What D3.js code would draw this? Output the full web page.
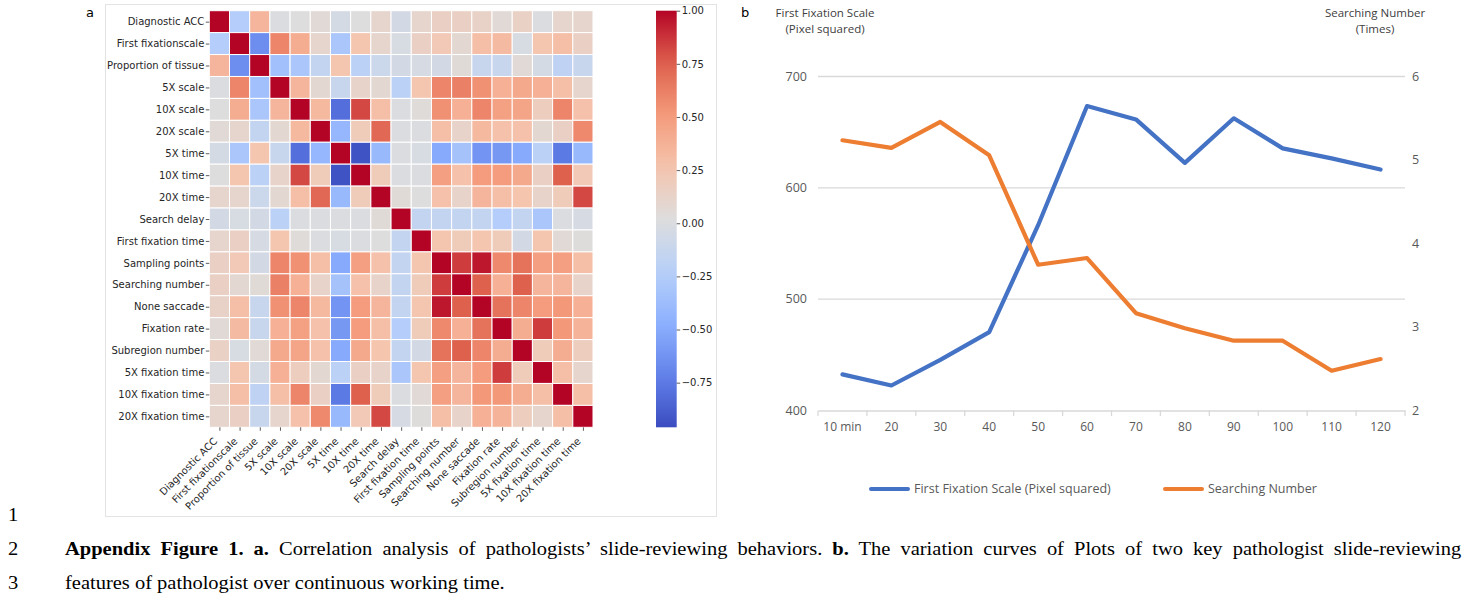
<!DOCTYPE html>
<html>
<head>
<meta charset="utf-8">
<script src="https://cdn.jsdelivr.net/npm/d3@7"></script>
<style>
  html, body { margin: 0; padding: 0; background: #fff; }
  svg { display: block; }
</style>
</head>
<body>
<svg id="fig" width="1481" height="602"></svg>
<script>
// ---- data: panel a (correlation matrix) ----
const features = [
  'Diagnostic ACC', 'First fixationscale', 'Proportion of tissue', '5X scale', '10X scale',
  '20X scale', '5X time', '10X time', '20X time', 'Search delay', 'First fixation time',
  'Sampling points', 'Searching number', 'None saccade', 'Fixation rate', 'Subregion number',
  '5X fixation time', '10X fixation time', '20X fixation time'
];

const corr = [
  [ 1.00,-0.25, 0.35, 0.00, 0.02, 0.06,-0.04, 0.02, 0.10,-0.05, 0.10, 0.15, 0.15, 0.13, 0.06, 0.14, 0.00, 0.10, 0.10],
  [-0.25, 1.00,-0.65, 0.60, 0.40, 0.10,-0.30, 0.25, 0.10,-0.02, 0.15, 0.22, 0.08, 0.30, 0.32,-0.02, 0.25, 0.30, 0.15],
  [ 0.35,-0.65, 1.00,-0.35,-0.30,-0.15, 0.25,-0.20,-0.10,-0.05,-0.03,-0.05, 0.05,-0.12,-0.12, 0.06,-0.04,-0.18,-0.12],
  [ 0.00, 0.60,-0.35, 1.00, 0.35, 0.08,-0.12, 0.12, 0.08,-0.20, 0.25, 0.60, 0.62, 0.55, 0.38, 0.42, 0.38, 0.30, 0.10],
  [ 0.02, 0.40,-0.30, 0.35, 1.00, 0.33,-0.80, 0.82, 0.30, 0.00, 0.04, 0.55, 0.38, 0.60, 0.47, 0.45, 0.18, 0.60, 0.28],
  [ 0.06, 0.10,-0.15, 0.08, 0.33, 1.00,-0.42, 0.20, 0.72, 0.00, 0.00, 0.30, 0.12, 0.33, 0.28, 0.28, 0.08, 0.15, 0.58],
  [-0.04,-0.30, 0.25,-0.12,-0.80,-0.42, 1.00,-0.93,-0.40, 0.00,-0.02,-0.50,-0.33,-0.62,-0.60,-0.50,-0.20,-0.75,-0.40],
  [ 0.02, 0.25,-0.20, 0.12, 0.82, 0.20,-0.93, 1.00, 0.20, 0.00, 0.00, 0.48, 0.28, 0.50, 0.50, 0.42, 0.15, 0.75, 0.22],
  [ 0.10, 0.10,-0.10, 0.08, 0.30, 0.72,-0.40, 0.20, 1.00, 0.05, 0.02, 0.28, 0.12, 0.35, 0.30, 0.26, 0.12, 0.20, 0.82],
  [-0.05,-0.02,-0.05,-0.20, 0.00, 0.00, 0.00, 0.00, 0.05, 1.00,-0.15,-0.15,-0.15,-0.15,-0.25,-0.15,-0.30, 0.00,-0.03],
  [ 0.10, 0.15,-0.03, 0.25, 0.04, 0.00,-0.02, 0.00, 0.02,-0.15, 1.00, 0.25, 0.20, 0.25, 0.20,-0.05, 0.25, 0.06, 0.03],
  [ 0.15, 0.22,-0.05, 0.60, 0.55, 0.30,-0.50, 0.48, 0.28,-0.15, 0.25, 1.00, 0.85, 0.95, 0.58, 0.68, 0.48, 0.48, 0.30],
  [ 0.15, 0.08, 0.05, 0.62, 0.38, 0.12,-0.33, 0.28, 0.12,-0.15, 0.20, 0.85, 1.00, 0.75, 0.38, 0.75, 0.35, 0.35, 0.12],
  [ 0.13, 0.30,-0.12, 0.55, 0.60, 0.33,-0.62, 0.50, 0.35,-0.15, 0.25, 0.95, 0.75, 1.00, 0.68, 0.60, 0.50, 0.52, 0.38],
  [ 0.06, 0.32,-0.12, 0.38, 0.47, 0.28,-0.60, 0.50, 0.30,-0.25, 0.20, 0.58, 0.38, 0.68, 1.00, 0.40, 0.85, 0.52, 0.36],
  [ 0.14,-0.02, 0.06, 0.42, 0.45, 0.28,-0.50, 0.42, 0.26,-0.15,-0.05, 0.68, 0.75, 0.60, 0.40, 1.00, 0.20, 0.40, 0.18],
  [ 0.00, 0.25,-0.04, 0.38, 0.18, 0.08,-0.20, 0.15, 0.12,-0.30, 0.25, 0.48, 0.35, 0.50, 0.85, 0.20, 1.00, 0.30, 0.10],
  [ 0.10, 0.30,-0.18, 0.30, 0.60, 0.15,-0.75, 0.75, 0.20, 0.00, 0.06, 0.48, 0.35, 0.52, 0.52, 0.40, 0.30, 1.00, 0.30],
  [ 0.10, 0.15,-0.12, 0.10, 0.28, 0.58,-0.40, 0.22, 0.82,-0.03, 0.03, 0.30, 0.12, 0.38, 0.36, 0.18, 0.10, 0.30, 1.00]
];

const cbarTicks = [1.0, 0.75, 0.5, 0.25, 0.0, -0.25, -0.5, -0.75];

// ---- data: panel b (two series over working time) ----
const timeLabels = ['10 min', '20', '30', '40', '50', '60', '70', '80', '90', '100', '110', '120'];
const fixationScale = [432, 422, 445, 470, 566, 673, 661, 622, 662, 635, 626, 616];
const searchingNumber = [5.23, 5.14, 5.45, 5.05, 3.74, 3.82, 3.16, 2.98, 2.83, 2.83, 2.47, 2.61];
const leftTicks = [400, 500, 600, 700];
const rightTicks = [2, 3, 4, 5, 6];

const captionLine2 = [
  { t: 'Appendix Figure 1. a.', b: true },
  { t: ' Correlation analysis of pathologists\u2019 slide-reviewing behaviors. ', b: false },
  { t: 'b.', b: true },
  { t: ' The variation curves of Plots of two key pathologist slide-reviewing', b: false }
];
const captionLine3 = 'features of pathologist over continuous working time.';

// ---------------------------------------------------------------
const svg = d3.select('#fig');
const SANS = 'DejaVu Sans, sans-serif';
const NARROW = '"Open Sans", sans-serif';
const SERIF = '"Liberation Serif", "DejaVu Serif", serif';

// coolwarm colormap
const VMIN = -0.96, VMAX = 1.0;
const CW = ['#3b4cc0', '#6282ea', '#8db0fe', '#b8d0f9', '#dddddd', '#f5c4ad', '#f49a7b', '#de604d', '#b40426'];
const color = d3.scaleLinear()
  .domain(CW.map((_, i) => VMIN + (VMAX - VMIN) * i / (CW.length - 1)))
  .range(CW)
  .interpolate(d3.interpolateRgb)
  .clamp(true);

// ---- panel a frame ----
svg.append('rect')
  .attr('x', 105.5).attr('y', 4.5).attr('width', 611).attr('height', 512)
  .attr('fill', '#fff').attr('stroke', '#e3e3e3');

svg.append('text').attr('x', 86).attr('y', 17)
  .attr('font-family', SANS).attr('font-size', 13).text('a');

const hx = d3.scaleBand().domain(d3.range(features.length)).range([209.3, 593]);
const hy = d3.scaleBand().domain(d3.range(features.length)).range([10.7, 427.3]);

const gHeat = svg.append('g');
corr.forEach((row, i) => {
  gHeat.selectAll(null).data(row).enter().append('rect')
    .attr('x', (d, j) => hx(j))
    .attr('y', hy(i))
    .attr('width', hx.bandwidth())
    .attr('height', hy.bandwidth())
    .attr('fill', d => color(d))
    .attr('stroke', '#fff')
    .attr('stroke-width', 1);
});

const yAx = svg.append('g')
  .attr('transform', 'translate(209.3,0)')
  .call(d3.axisLeft(d3.scalePoint().domain(features).range([hy(0) + hy.bandwidth() / 2, hy(18) + hy.bandwidth() / 2]))
    .tickSize(3.5).tickPadding(1.5));
yAx.select('.domain').remove();
yAx.selectAll('line').attr('stroke', '#333').attr('stroke-width', 0.8);
yAx.selectAll('text').attr('font-family', SANS).attr('font-size', 10).attr('fill', '#262626');

const xAx = svg.append('g')
  .attr('transform', 'translate(0,427.3)')
  .call(d3.axisBottom(d3.scalePoint().domain(features).range([hx(0) + hx.bandwidth() / 2, hx(18) + hx.bandwidth() / 2]))
    .tickSize(3.5));
xAx.select('.domain').remove();
xAx.selectAll('line').attr('stroke', '#333').attr('stroke-width', 0.8);
xAx.selectAll('text')
  .attr('font-family', SANS).attr('font-size', 10).attr('fill', '#262626')
  .attr('text-anchor', 'end')
  .attr('x', 0).attr('y', 0).attr('dy', 0)
  .attr('transform', 'translate(-2,14.5) rotate(-45)');

// ---- colorbar ----
const cbY = d3.scaleLinear().domain([VMIN, VMAX]).range([427.3, 10.7]);
const grad = svg.append('defs').append('linearGradient')
  .attr('id', 'cw').attr('x1', 0).attr('y1', 1).attr('x2', 0).attr('y2', 0);
d3.range(0, 1.0001, 0.05).forEach(t => {
  grad.append('stop').attr('offset', t).attr('stop-color', color(VMIN + t * (VMAX - VMIN)));
});
svg.append('rect')
  .attr('x', 656).attr('y', 10.7).attr('width', 20.7).attr('height', 427.3 - 10.7)
  .attr('fill', 'url(#cw)');
const cbAx = svg.append('g').attr('transform', 'translate(676.7,0)')
  .call(d3.axisRight(cbY).tickValues(cbarTicks).tickFormat(d3.format('.2f')).tickSize(3.5).tickPadding(1.5));
cbAx.select('.domain').remove();
cbAx.selectAll('line').attr('stroke', '#333').attr('stroke-width', 0.8);
cbAx.selectAll('text').attr('font-family', SANS).attr('font-size', 10).attr('fill', '#262626');

// ---- panel b ----
svg.append('text').attr('x', 741).attr('y', 17)
  .attr('font-family', SANS).attr('font-size', 13).text('b');

const bx = d3.scaleBand().domain(timeLabels).range([818, 1405]);
const yL = d3.scaleLinear().domain([400, 700]).range([410, 76]);
const yR = d3.scaleLinear().domain([2, 6]).range([410, 76]);

const gB = svg.append('g');
gB.selectAll('line.grid').data(leftTicks.slice(1)).enter().append('line')
  .attr('x1', 818).attr('x2', 1405)
  .attr('y1', d => yL(d) + 0.5).attr('y2', d => yL(d) + 0.5)
  .attr('stroke', '#d9d9d9').attr('stroke-width', 1.3);

const xAxB = gB.append('g').attr('transform', 'translate(0,410.5)')
  .call(d3.axisBottom(bx).tickSize(0).tickPadding(12));
xAxB.select('.domain').attr('stroke', '#d9d9d9').attr('stroke-width', 1.3);
xAxB.selectAll('text').attr('font-family', NARROW).attr('font-size', 12).attr('fill', '#595959');
gB.selectAll('line.xt').data(d3.range(timeLabels.length + 1)).enter().append('line')
  .attr('x1', i => 818 + i * bx.step()).attr('x2', i => 818 + i * bx.step())
  .attr('y1', 410.5).attr('y2', 416)
  .attr('stroke', '#d9d9d9').attr('stroke-width', 1.3);

gB.append('g').attr('transform', 'translate(807,0)')
  .call(d3.axisLeft(yL).tickValues(leftTicks).tickSize(0).tickPadding(0))
  .call(g => g.select('.domain').remove())
  .selectAll('text').attr('font-family', NARROW).attr('font-size', 12.5).attr('fill', '#595959');

gB.append('g').attr('transform', 'translate(1412,0)')
  .call(d3.axisRight(yR).tickValues(rightTicks).tickFormat(d3.format('d')).tickSize(0).tickPadding(0))
  .call(g => g.select('.domain').remove())
  .selectAll('text').attr('font-family', NARROW).attr('font-size', 12.5).attr('fill', '#595959');

const cx = d => bx(d) + bx.bandwidth() / 2;
gB.append('path')
  .attr('d', d3.line().x((d, i) => cx(timeLabels[i])).y(d => yL(d))(fixationScale))
  .attr('fill', 'none').attr('stroke', '#4472c4').attr('stroke-width', 4.2)
  .attr('stroke-linejoin', 'round').attr('stroke-linecap', 'round');
gB.append('path')
  .attr('d', d3.line().x((d, i) => cx(timeLabels[i])).y(d => yR(d))(searchingNumber))
  .attr('fill', 'none').attr('stroke', '#ed7d31').attr('stroke-width', 4.2)
  .attr('stroke-linejoin', 'round').attr('stroke-linecap', 'round');

// axis titles
const tl = gB.append('text').attr('font-family', NARROW).attr('font-size', 11.5).attr('fill', '#404040')
  .attr('text-anchor', 'middle');
tl.append('tspan').attr('x', 825).attr('y', 17).text('First Fixation Scale');
tl.append('tspan').attr('x', 825).attr('y', 33).text('(Pixel squared)');
const tr = gB.append('text').attr('font-family', NARROW).attr('font-size', 11.5).attr('fill', '#404040')
  .attr('text-anchor', 'middle');
tr.append('tspan').attr('x', 1375).attr('y', 17).text('Searching Number');
tr.append('tspan').attr('x', 1375).attr('y', 33).text('(Times)');

// legend
const legend = [
  { name: 'First Fixation Scale (Pixel squared)', c: '#4472c4', x: 871 },
  { name: 'Searching Number', c: '#ed7d31', x: 1165 }
];
legend.forEach(l => {
  gB.append('line').attr('x1', l.x).attr('x2', l.x + 37).attr('y1', 489).attr('y2', 489)
    .attr('stroke', l.c).attr('stroke-width', 4).attr('stroke-linecap', 'round');
  gB.append('text').attr('x', l.x + 43).attr('y', 493)
    .attr('font-family', NARROW).attr('font-size', 12.5).attr('fill', '#595959').text(l.name);
});

// ---- caption: condensed serif, line 2 justified to the full width ----
const gCap = svg.append('g').attr('font-family', SERIF).attr('font-size', 19).attr('fill', '#000');
const l3 = gCap.append('text').attr('x', 0).attr('y', 589).text(captionLine3);
const sx = (505 - 65) / l3.node().getComputedTextLength();
l3.attr('transform', `translate(65,0) scale(${sx},1)`);
[['1', 521], ['2', 555], ['3', 589]].forEach(([n, y]) => {
  gCap.append('text').attr('x', 0).attr('y', y).text(n)
    .attr('transform', `translate(8,0) scale(${sx},1)`);
});
const l2 = gCap.append('text').attr('x', 0).attr('y', 555);
captionLine2.forEach(s => l2.append('tspan').attr('font-weight', s.b ? 'bold' : 'normal').text(s.t));
const nat2 = l2.node().getComputedTextLength();
const spaces = captionLine2.map(s => s.t).join('').split(' ').length - 1;
l2.attr('word-spacing', Math.max(0, ((1462 - 65) / sx - nat2) / spaces))
  .attr('transform', `translate(65,0) scale(${sx},1)`);
</script>
</body>
</html>
